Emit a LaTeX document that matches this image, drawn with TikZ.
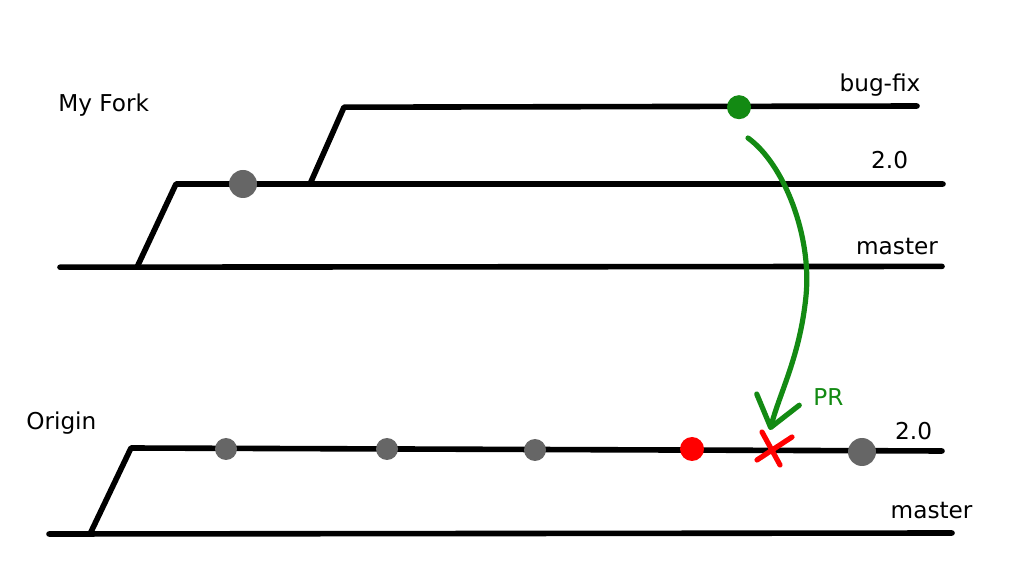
\documentclass[tikz,border=0pt]{standalone}
\usepackage{fontspec}
\setmainfont{DejaVu Sans}
\usepackage{tikz}
\usetikzlibrary{arrows.meta}

\definecolor{prgreen}{RGB}{19,138,19}
\definecolor{commitgray}{RGB}{102,102,102}

\tikzset{
	branch/.style={line width=0.14cm, line cap=round, line join=round},
	commit/.style={shape=circle, fill=commitgray, inner sep=0pt, minimum size=0.6cm},
	lbl/.style={anchor=base, inner sep=0pt, font=\fontsize{16.5}{20}\selectfont},
	prline/.style={prgreen, line width=0.13cm, line cap=round,
		-{Straight Barb[length=0.72cm, width=1.1cm, line width=0.13cm, round]}},
	cross/.style={red, line width=0.13cm, line cap=round}
}

\begin{document}
\begin{tikzpicture}
					% Frame of the picture:
					\useasboundingbox (0, 0) rectangle (25.6, 14.4);
					% Branch points, my fork:
					\coordinate (FM0) at (1.5, 7.72);
					\coordinate (FM1) at (23.55, 7.74);
					\coordinate (F20) at (3.425, 7.72);
					\coordinate (F21) at (4.4, 9.8);
					\coordinate (F22) at (23.575, 9.8);
					\coordinate (FB0) at (7.75, 9.8);
					\coordinate (FB1) at (8.6, 11.72);
					\coordinate (FB2) at (22.925, 11.75);
					% Branch points, origin:
					\coordinate (OM0) at (1.225, 1.05);
					\coordinate (OM1) at (23.8, 1.075);
					\coordinate (O20) at (2.25, 1.05);
					\coordinate (O21) at (3.275, 3.2);
					\coordinate (O22) at (23.55, 3.125);
					% Paths:
					\draw[branch] (FM0) -- (FM1);
					\draw[branch] (F20) -- (F21) -- (F22);
					\draw[branch] (FB0) -- (FB1) -- (FB2);
					\draw[branch] (OM0) -- (OM1);
					\draw[branch] (O20) -- (O21) -- (O22);
					% Commits:
					\node[commit, minimum size=0.7cm](C1) at (6.075, 9.8){};
					\node[commit, fill=prgreen](C2) at (18.475, 11.72){};
					\node[commit, minimum size=0.55cm](C3) at (5.65, 3.175){};
					\node[commit, minimum size=0.55cm](C4) at (9.675, 3.175){};
					\node[commit, minimum size=0.55cm](C5) at (13.375, 3.15){};
					\node[commit, fill=red](C6) at (17.3, 3.175){};
					\node[commit, minimum size=0.7cm](C7) at (21.55, 3.1){};
					% Labels:
					\node[lbl, anchor=base west](L1) at (1.45, 11.6){My Fork};
					\node[lbl](L2) at (22.0, 12.1){bug-fix};
					\node[lbl](L3) at (22.24, 10.175){2.0};
					\node[lbl](L4) at (22.425, 8.025){master};
					\node[lbl, anchor=base west](L5) at (0.65, 3.65){Origin};
					\node[lbl](L6) at (22.84, 3.4){2.0};
					\node[lbl](L7) at (23.29, 1.45){master};
					\node[lbl, text=prgreen](L8) at (20.71, 4.25){PR};
					% Pull request:
					\coordinate (P0) at (18.7, 10.95);
					\coordinate (P1) at (20.15, 7.0);
					\coordinate (P2) at (19.25, 3.65);
					\draw[prline] (P0) .. controls (19.6, 10.3) and (20.3, 8.5) .. (P1) .. controls (20.0, 5.5) and (19.5, 4.6) .. (P2);
					% Rejected:
					\coordinate (X0) at (18.925, 2.9);
					\coordinate (X1) at (19.8, 3.475);
					\coordinate (X2) at (19.05, 3.6);
					\coordinate (X3) at (19.5, 2.775);
					\draw[cross] (X0) -- (X1);
					\draw[cross] (X2) -- (X3);
				\end{tikzpicture}
\end{document}
